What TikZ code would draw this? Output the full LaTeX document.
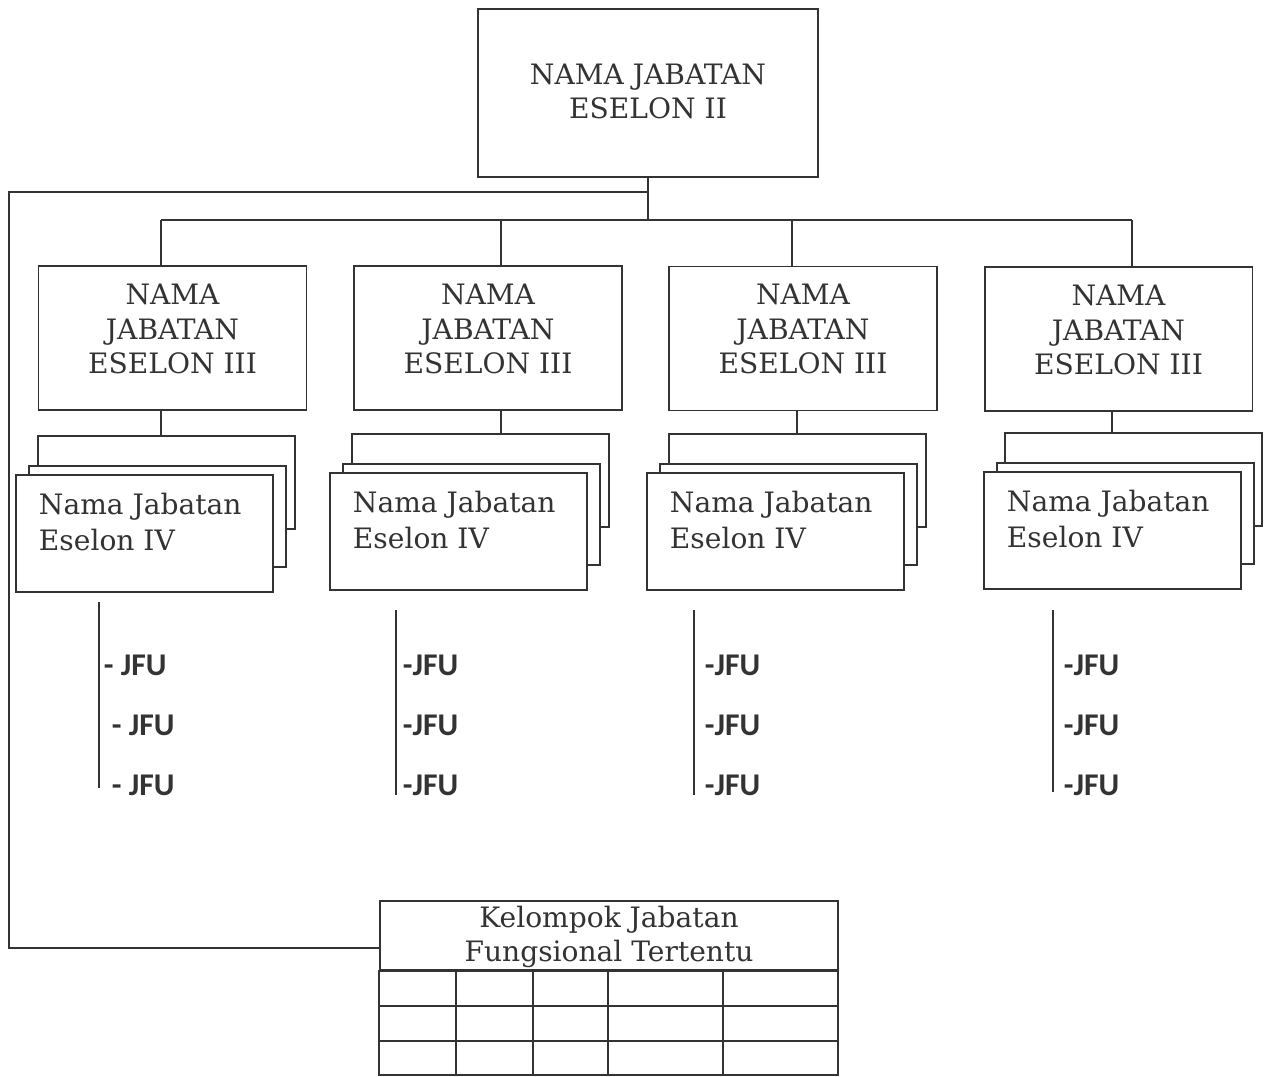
\documentclass[tikz,border=0pt]{standalone}
\usepackage{fontspec}
\setmainfont{DejaVu Serif}
\newfontfamily\jfufont{Carlito}
\tikzset{
  boxtwo/.style={draw, minimum width=6.8cm, minimum height=3.36cm, inner sep=0pt},
  boxthree/.style={draw, minimum width=5.36cm, minimum height=2.88cm, inner sep=0pt},
  boxfour/.style={draw, fill=white, minimum width=5.14cm, minimum height=2.34cm, inner sep=0pt},
  boxmid/.style={boxfour, minimum height=2.02cm},
  boxback/.style={boxfour, minimum height=1.86cm},
  boxtitle/.style={draw, minimum width=9.16cm, minimum height=1.38cm, inner sep=0pt},
  captext/.style={align=center, inner sep=0pt, font=\fontsize{16}{19.5}\selectfont},
  smalltext/.style={align=left, anchor=west, inner sep=0pt, font=\fontsize{16}{20.4}\selectfont},
  jfutext/.style={anchor=base west, inner sep=0pt, font=\jfufont\bfseries\fontsize{18}{21}\selectfont}
}
\begin{document}
\begin{tikzpicture}[x=0.02cm, y=-0.02cm, line width=1.1pt, black!80]
\useasboundingbox (0, 0) rectangle (1265, 1076);
% eselon II
\node [boxtwo] (e2) at (648, 93) {};
\node [captext] (e2t) at (648, 91.5) {NAMA JABATAN\\ESELON II};
% eselon III
\node [boxthree] (e3a) at (172.5, 338) {};
\node [boxthree] (e3b) at (488, 338) {};
\node [boxthree] (e3c) at (803, 338.5) {};
\node [boxthree] (e3d) at (1118.5, 339) {};
\node [captext] (e3at) at (172.5, 329) {NAMA\\JABATAN\\ESELON III};
\node [captext] (e3bt) at (488, 329) {NAMA\\JABATAN\\ESELON III};
\node [captext] (e3ct) at (803, 329) {NAMA\\JABATAN\\ESELON III};
\node [captext] (e3dt) at (1118.5, 330) {NAMA\\JABATAN\\ESELON III};
% bus
\coordinate (d1) at (161, 220);
\coordinate (d2) at (501, 220);
\coordinate (d3) at (792, 220);
\coordinate (d4) at (1132, 220);
\coordinate (lp) at (9, 192);
\draw (e2.south) -- (e2.south |- d1);
\draw (d1) -- (d4);
\draw (d1) -- (d1 |- e3a.north);
\draw (d2) -- (d2 |- e3b.north);
\draw (d3) -- (d3 |- e3c.north);
\draw (d4) -- (d4 |- e3d.north);
% eselon IV, three sheets each
\node [boxback] (e4aback) at (166.5, 482.5) {};
\node [boxmid] (e4amid) at (157.5, 516.5) {};
\node [boxfour] (e4a) at (144.5, 533.5) {};
\node [boxback] (e4bback) at (480.5, 480.5) {};
\node [boxmid] (e4bmid) at (471.5, 514.5) {};
\node [boxfour] (e4b) at (458.5, 531.5) {};
\node [boxback] (e4cback) at (797.5, 480.5) {};
\node [boxmid] (e4cmid) at (788.5, 514.5) {};
\node [boxfour] (e4c) at (775.5, 531.5) {};
\node [boxback] (e4dback) at (1133.5, 479.5) {};
\node [boxmid] (e4dmid) at (1125.5, 513.5) {};
\node [boxfour] (e4d) at (1112.5, 530.5) {};
\node [smalltext] (e4at) at (38, 522) {Nama Jabatan\\Eselon IV};
\node [smalltext] (e4bt) at (352, 520) {Nama Jabatan\\Eselon IV};
\node [smalltext] (e4ct) at (669, 520) {Nama Jabatan\\Eselon IV};
\node [smalltext] (e4dt) at (1006, 519) {Nama Jabatan\\Eselon IV};
\coordinate (s1) at (161, 410);
\coordinate (s2) at (501, 410);
\coordinate (s3) at (797, 410);
\coordinate (s4) at (1112, 410);
\draw (s1 |- e3a.south) -- (s1 |- e4aback.north);
\draw (s2 |- e3b.south) -- (s2 |- e4bback.north);
\draw (s3 |- e3c.south) -- (s3 |- e4cback.north);
\draw (s4 |- e3d.south) -- (s4 |- e4dback.north);
% jfu
\coordinate (ja1) at (99, 602);
\coordinate (ja2) at (99, 788);
\coordinate (jb1) at (396, 610);
\coordinate (jb2) at (396, 795);
\coordinate (jc1) at (694, 610);
\coordinate (jc2) at (694, 795);
\coordinate (jd1) at (1053, 610);
\coordinate (jd2) at (1053, 792);
\draw (ja1) -- (ja2);
\draw (jb1) -- (jb2);
\draw (jc1) -- (jc2);
\draw (jd1) -- (jd2);
\node [jfutext] (ja) at (103, 675) {- JFU};
\node [jfutext] (jb) at (111, 735) {- JFU};
\node [jfutext] (jc) at (111, 795) {- JFU};
\node [jfutext] (jd) at (402, 675) {-JFU};
\node [jfutext] (je) at (402, 735) {-JFU};
\node [jfutext] (jf) at (402, 795) {-JFU};
\node [jfutext] (jg) at (704, 675) {-JFU};
\node [jfutext] (jh) at (704, 735) {-JFU};
\node [jfutext] (ji) at (704, 795) {-JFU};
\node [jfutext] (jj) at (1063, 675) {-JFU};
\node [jfutext] (jk) at (1063, 735) {-JFU};
\node [jfutext] (jl) at (1063, 795) {-JFU};
% jabatan fungsional tertentu
\node [boxtitle] (kjf) at (609, 935.5) {};
\node [captext] (kjft) at (609, 937) {Kelompok Jabatan\\Fungsional Tertentu};
\draw (kjf.south west) rectangle (838, 1075);
\draw (380, 1006) -- (838, 1006);
\draw (380, 1041) -- (838, 1041);
\draw (456, 970) -- (456, 1075);
\draw (533, 970) -- (533, 1075);
\draw (608, 970) -- (608, 1075);
\draw (723, 970) -- (723, 1075);
\draw (e2.south |- lp) -- (lp) |- (kjf.west |- 0, 948);
\end{tikzpicture}
\end{document}
